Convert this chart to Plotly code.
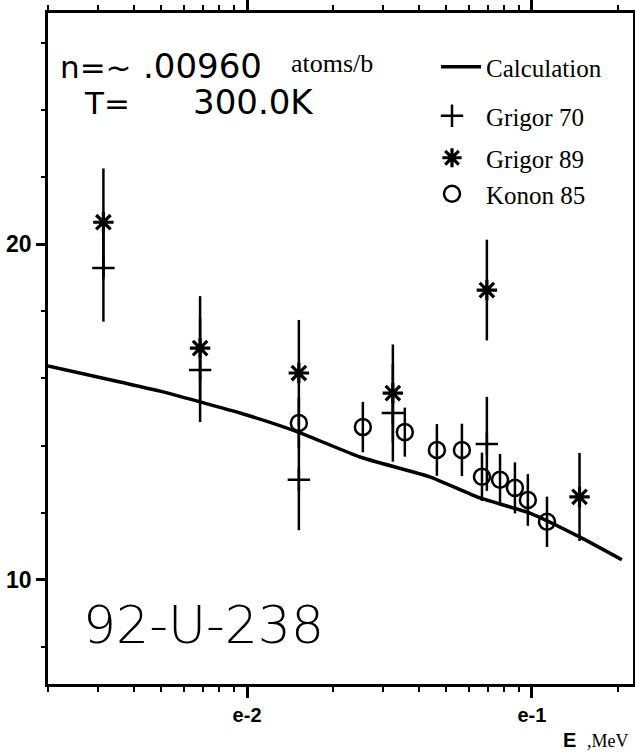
import plotly.graph_objects as go
import math

# ---------------- data ----------------
calc_E = [0.00200, 0.00358, 0.00495, 0.00684, 0.00945, 0.01535, 0.0249, 0.0438, 0.0657, 0.0984, 0.147, 0.207]
calc_sigma = [16.37, 15.89, 15.62, 15.30, 14.97, 14.38, 13.66, 13.07, 12.44, 11.99, 11.28, 10.60]

g70_E = [0.00313, 0.00684, 0.0152, 0.0325, 0.0695]
g70_sigma = [19.29, 16.25, 12.98, 14.97, 14.05]
g70_err = [1.6, 1.55, 1.5, 1.45, 1.4]

g89_E = [0.00313, 0.00684, 0.0152, 0.0325, 0.0695, 0.147]
g89_sigma = [20.65, 16.90, 16.16, 15.56, 18.63, 12.47]
g89_err = [1.6, 1.55, 1.58, 1.45, 1.5, 1.31]

k85_E = [0.0152, 0.0255, 0.0358, 0.0464, 0.0568, 0.0668, 0.0773, 0.0872, 0.0968, 0.113]
k85_sigma = [14.67, 14.55, 14.40, 13.87, 13.87, 13.07, 12.98, 12.74, 12.38, 11.73]
k85_err = [0.75, 0.75, 0.73, 0.77, 0.78, 0.72, 0.77, 0.76, 0.77, 0.75]

x_tickvals = [0.01, 0.1]
x_ticktext = ["e-2", "e-1"]
y_tickvals = [10, 20]
y_ticktext = ["10", "20"]

# ---------------- layout helpers ----------------
W, H = 635, 753
# plot area in window pixels: left 48, right 633, top 13, bottom 684
PL, PR, PT, PB = 48, 633, 13, 684
L, T, R, B = PL, PT, W - PR, H - PB
PW, PH = PR - PL, PB - PT

def px(x):
    return (x - PL) / PW

def py(y):
    return (PB - y) / PH

SANS = "DejaVu Sans"
SERIF = "Liberation Serif, Times New Roman, serif"
TICKF = "Liberation Sans Narrow, Arial Narrow, Liberation Sans, Arial, sans-serif"

fig = go.Figure()

fig.add_trace(go.Scatter(
    x=calc_E, y=calc_sigma, mode="lines", name="Calculation",
    line=dict(color="black", width=3.5, shape="spline", smoothing=0.5),
    legend="legend"))

err_style = dict(type="data", visible=True, color="black", thickness=2.5, width=0)

fig.add_trace(go.Scatter(
    x=g70_E, y=g70_sigma, mode="markers", name="Grigor 70",
    marker=dict(symbol="cross-thin", size=16, color="black", line=dict(color="black", width=2.5)),
    error_y=dict(array=g70_err, **err_style), legend="legend2"))

fig.add_trace(go.Scatter(
    x=g89_E, y=g89_sigma, mode="markers", name="Grigor 89",
    marker=dict(symbol="asterisk", size=17, color="black", line=dict(color="black", width=3.2)),
    error_y=dict(array=g89_err, **err_style), legend="legend3"))

fig.add_trace(go.Scatter(
    x=k85_E, y=k85_sigma, mode="markers", name="Konon 85",
    marker=dict(symbol="circle-open", size=16, color="black", line=dict(color="black", width=2.5)),
    error_y=dict(array=k85_err, **err_style), legend="legend4"))

leg_font = dict(family=SERIF, size=25, color="black")
leg_common = dict(font=leg_font, bgcolor="rgba(0,0,0,0)", xanchor="left", yanchor="middle", borderwidth=0)

fig.update_layout(
    width=W, height=H,
    margin=dict(l=L, r=R, t=T, b=B, autoexpand=False),
    paper_bgcolor="white", plot_bgcolor="white",
    showlegend=True,
    legend=dict(x=px(436), y=py(67), itemwidth=40, **leg_common),
    legend2=dict(x=px(418), y=py(116), itemwidth=58, **leg_common),
    legend3=dict(x=px(418), y=py(158), itemwidth=58, **leg_common),
    legend4=dict(x=px(418), y=py(194), itemwidth=58, **leg_common),
    xaxis=dict(
        type="log", range=[math.log10(0.002), math.log10(0.2265)],
        tickvals=x_tickvals, ticktext=x_ticktext,
        ticks="outside", ticklen=11, tickwidth=2.5, tickcolor="black",
        minor=dict(tickvals=[m * 10 ** e for e in (-3, -2, -1) for m in range(2, 10)],
                   ticks="outside", ticklen=5, tickwidth=2, tickcolor="black"),
        showline=True, linecolor="black", linewidth=2.5, mirror="ticks",
        showgrid=False, zeroline=False, automargin=False,
        tickfont=dict(family=TICKF, size=20, color="black", weight="bold"),
    ),
    yaxis=dict(
        range=[6.9, 26.88],
        tickvals=y_tickvals, ticktext=y_ticktext,
        ticks="outside", ticklen=9, tickwidth=2.5, tickcolor="black",
        minor=dict(dtick=2, tick0=0, ticks="outside", ticklen=4, tickwidth=2, tickcolor="black"),
        showline=True, linecolor="black", linewidth=2.5, mirror=True,
        showgrid=False, zeroline=False, automargin=False,
        tickfont=dict(family=TICKF, size=23, color="black", weight="bold"),
    ),
)

def note(text, x, y, family, size, xanchor="left", weight="normal"):
    fig.add_annotation(text=text, x=px(x), y=py(y), xref="paper", yref="paper",
                       xanchor=xanchor, yanchor="middle", showarrow=False,
                       font=dict(family=family, size=size, color="black", weight=weight))

note("n=~", 58, 67, SANS, 31)
note(".00960", 141, 66, SANS, 34)
note("atoms/b", 289, 63, SERIF, 26)
note("T=", 82, 103, SANS, 31)
note("300.0K", 191, 102, SANS, 34)
note("92-U-238", 81, 625, SANS, 52, weight=200)
note("E", 578, 740, TICKF, 20, xanchor="right", weight="bold")
note(",MeV", 631, 741, SERIF, 18, xanchor="right")

# remove the browser's default 8px page margin so the figure fills the window exactly
fig.write_html("out.html", config={"displayModeBar": False},
               post_script="document.body.style.margin='0';document.body.style.overflow='hidden';")
